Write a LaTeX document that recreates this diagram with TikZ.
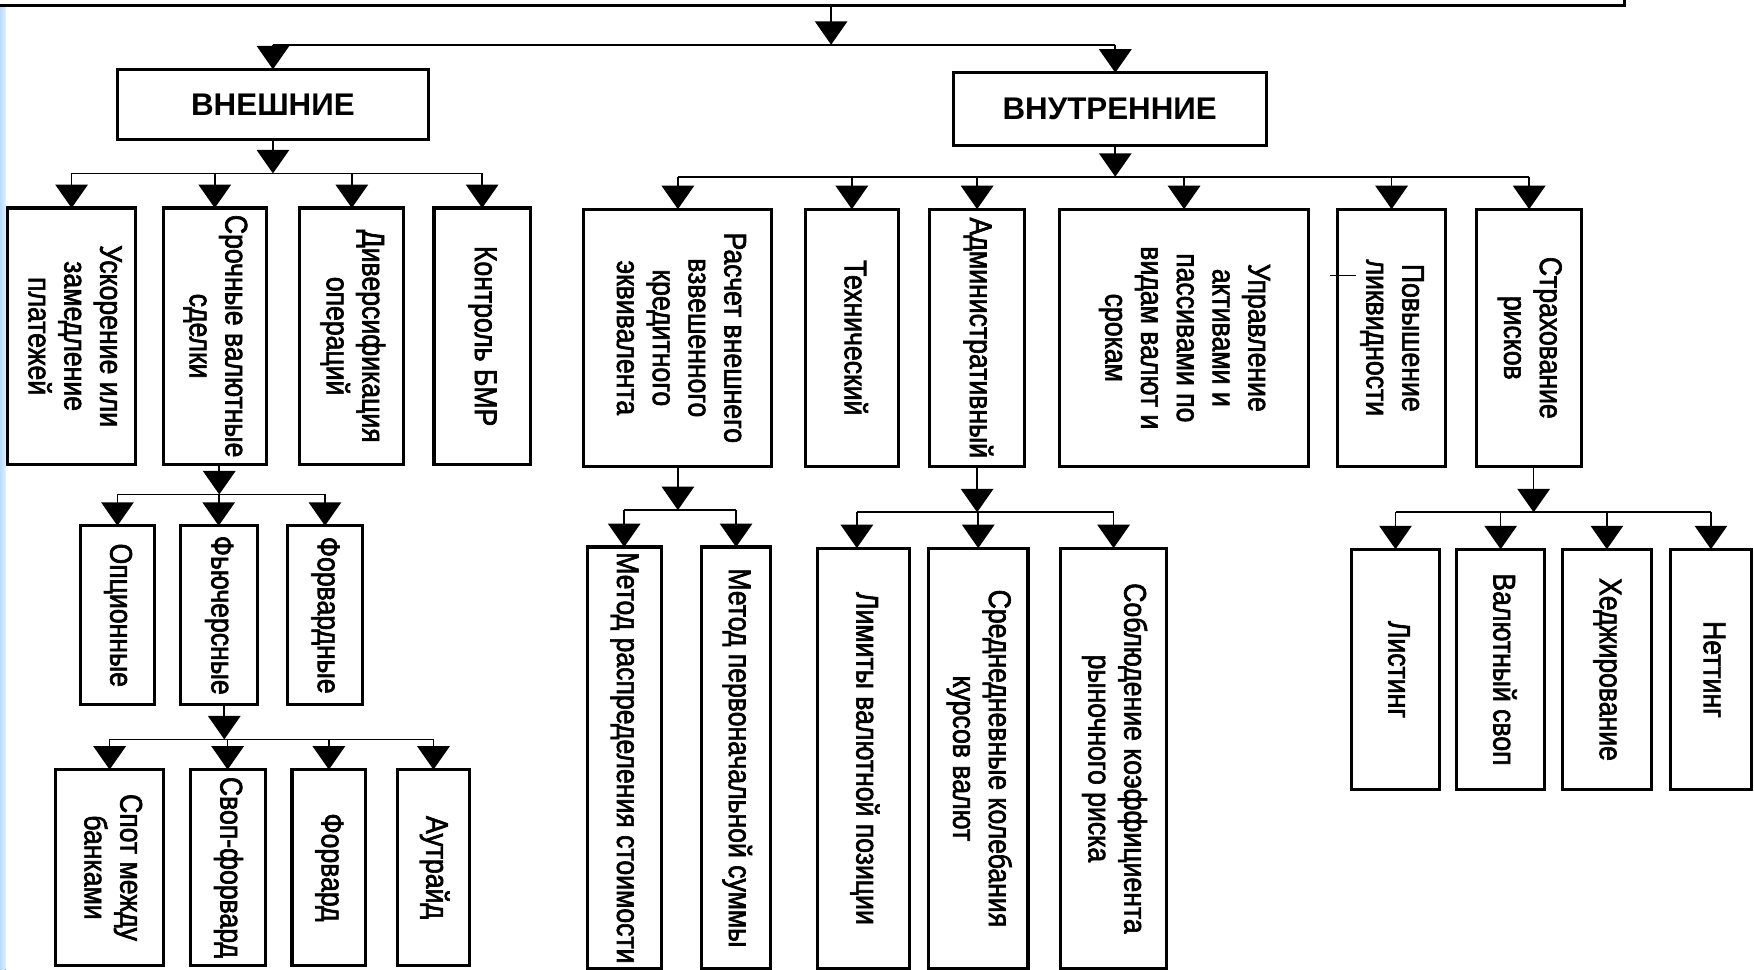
\documentclass[tikz,border=0pt]{standalone}
\usepackage{fontspec}
\usepackage{graphicx}
\setmainfont{Liberation Sans}
\newfontfamily\narrowfont{Liberation Sans}[FakeStretch=0.85,FakeBold=2]
\usetikzlibrary{arrows.meta}

\newcommand\vtext[1]{\rotatebox{-90}{\narrowfont\fontsize{28}{32}\selectfont\begin{tabular}{@{}c@{}}#1\end{tabular}}}
\newcommand\mkbox[6]{\node[box, minimum width={#3-#2}, minimum height={#5-#4}] (#1) at ({(#2+#3)/2},{(#4+#5)/2}) {#6};}

\begin{document}
\begin{tikzpicture}[x=1pt, y=-1pt,
  box/.style={draw, rectangle, line width=2.8pt, inner sep=0pt, outer sep=0pt, align=center, fill=white},
  conn/.style={line width=1.5pt},
  arr/.style={conn, -{Triangle[length=21pt,width=29pt]}}]
\useasboundingbox (0,0) rectangle (1568,867);
\clip (0,0) rectangle (1568,867);
\fill[white] (0,0) rectangle (1568,867);
\fill[left color={rgb,255:red,185;green,218;blue,248}, right color={rgb,255:red,225;green,239;blue,252}] (0,0) rectangle (5,867);

% top box (cut by the upper edge)
\mkbox{top}{-30}{1452}{-80}{5}{}

% level 1
\mkbox{ext}{105}{383}{62}{125}{\bfseries\fontsize{28}{32}\selectfont ВНЕШНИЕ}
\mkbox{int}{852}{1132}{65}{130}{\bfseries\fontsize{28}{32}\selectfont ВНУТРЕННИЕ}

% level 2 external
\mkbox{e1}{7}{121}{186}{415}{\vtext{Ускорение или\\замедление\\платежей}}
\mkbox{e2}{146}{238}{186}{415}{\vtext{Срочные валютные\\сделки}}
\mkbox{e3}{268}{361}{186}{415}{\vtext{Диверсификация\\операций}}
\mkbox{e4}{388}{474}{186}{415}{\vtext{Контроль БМР}}

% level 2 internal
\mkbox{i1}{522}{690}{187}{417}{\vtext{Расчет внешнего\\взвешенного\\кредитного\\эквивалента}}
\mkbox{i2}{720}{803}{187}{417}{\vtext{Технический}}
\mkbox{i3}{831}{916}{187}{417}{\vtext{Административный}}
\mkbox{i4}{947}{1170}{187}{417}{\vtext{Управление\\активами и\\пассивами по\\видам валют и\\срокам}}
\mkbox{i5}{1196}{1292}{187}{417}{\vtext{Повышение\\ликвидности}}
\mkbox{i6}{1320}{1414}{187}{417}{\vtext{Страхование\\рисков}}

% level 3 under e2
\mkbox{o1}{72}{138}{470}{630}{\vtext{Опционные}}
\mkbox{o2}{161}{230}{470}{630}{\vtext{Фьючерсные}}
\mkbox{o3}{257}{324}{470}{630}{\vtext{Форвардные}}

% level 4 under o2
\mkbox{f1}{50}{146}{688}{863}{\vtext{Спот между\\банками}}
\mkbox{f2}{170}{237}{688}{863}{\vtext{Своп-форвард}}
\mkbox{f3}{261}{327}{688}{863}{\vtext{Форвард}}
\mkbox{f4}{355}{420}{688}{863}{\vtext{Аутрайд}}

% under i1
\mkbox{m1}{525}{591}{489}{866}{\vtext{Метод распределения стоимости}}
\mkbox{m2}{627}{689}{489}{866}{\vtext{Метод первоначальной суммы}}

% under i3
\mkbox{a1}{731}{813}{490}{866}{\vtext{Лимиты валютной позиции}}
\mkbox{a2}{830}{919}{490}{866}{\vtext{Среднедневные колебания\\курсов валют}}
\mkbox{a3}{948}{1043}{490}{866}{\vtext{Соблюдение коэффициента\\рыночного риска}}

% under i6
\mkbox{s1}{1208}{1287}{491}{706}{\vtext{Листинг}}
\mkbox{s2}{1302}{1381}{491}{706}{\vtext{Валютный своп}}
\mkbox{s3}{1397}{1476}{491}{706}{\vtext{Хеджирование}}
\mkbox{s4}{1493}{1566}{491}{706}{\vtext{Неттинг}}

% bus levels
\coordinate (b0) at (743,40);
\coordinate (b1) at (0,155);
\coordinate (b2) at (0,158);
\coordinate (b3) at (0,442);
\coordinate (b4) at (0,661);
\coordinate (b5) at (0,456);
\coordinate (b6) at (0,458);
\coordinate (b7) at (0,458);

% top -> level 1
\draw[arr] (top.south -| b0) -- (b0);
\draw[conn] (ext.north |- b0) -- ([xshift=5pt]int.north |- b0);
\draw[arr] (ext.north |- b0) -- (ext.north);
\draw[arr] ([xshift=5pt]int.north |- b0) -- ([xshift=5pt]int.north);

% ext -> e1..e4
\draw[arr] (ext.south) -- (ext.south |- b1);
\draw[conn] (e1.north |- b1) -- (e4.north |- b1);
\foreach \n in {e1,e2,e3,e4} \draw[arr] (\n.north |- b1) -- (\n.north);

% int -> i1..i6
\draw[arr] ([xshift=5pt]int.south) -- ([xshift=5pt]int.south |- b2);
\draw[conn] (i1.north |- b2) -- (i6.north |- b2);
\foreach \n in {i1,i2,i3,i4,i5,i6} \draw[arr] (\n.north |- b2) -- (\n.north);

% e2 -> o1..o3
\draw[arr] ([xshift=4pt]e2.south) -- ([xshift=4pt]e2.south |- b3);
\draw[conn] (o1.north |- b3) -- (o3.north |- b3);
\foreach \n in {o1,o2,o3} \draw[arr] (\n.north |- b3) -- (\n.north);

% o2 -> f1..f4
\draw[arr] ([xshift=5pt]o2.south) -- ([xshift=5pt]o2.south |- b4);
\draw[conn] (f1.north |- b4) -- (f4.north |- b4);
\foreach \n in {f1,f2,f3,f4} \draw[arr] (\n.north |- b4) -- (\n.north);

% i1 -> m1, m2
\draw[arr] (i1.south) -- (i1.south |- b5);
\draw[conn] (m1.north |- b5) -- (m2.north |- b5);
\foreach \n in {m1,m2} \draw[arr] (\n.north |- b5) -- (\n.north);

% i3 -> a1..a3
\draw[arr] (i3.south) -- (i3.south |- b6);
\draw[conn] ([xshift=-6pt]a1.north |- b6) -- (a3.north |- b6);
\draw[arr] ([xshift=-6pt]a1.north |- b6) -- ([xshift=-6pt]a1.north);
\foreach \n in {a2,a3} \draw[arr] (\n.north |- b6) -- (\n.north);

% i6 -> s1..s4
\draw[arr] ([xshift=4pt]i6.south) -- ([xshift=4pt]i6.south |- b7);
\draw[conn] (s1.north |- b7) -- (s4.north |- b7);
\foreach \n in {s1,s2,s3,s4} \draw[arr] (\n.north |- b7) -- (\n.north);

% small mark at the left edge of i5
\draw[line width=1.2pt] ([xshift=-7pt,yshift=-59pt]i5.north west) -- ([xshift=16pt,yshift=-59pt]i5.north west);
\end{tikzpicture}
\end{document}
